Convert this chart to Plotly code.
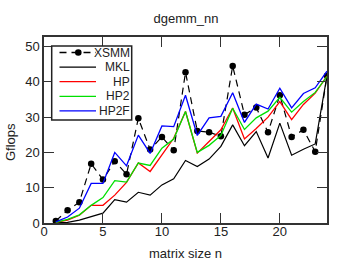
import plotly.graph_objects as go

n = list(range(1, 25))
xsmm = [0.6, 3.6, 5.9, 16.8, 12.3, 17.5, 13.8, 29.7, 20.8, 24.4, 20.6, 42.7,
        26.1, 25.7, 24.6, 44.5, 30.7, 32.7, 25.7, 36.2, 24.4, 26.4, 20.2, 41.7]
mkl = [0.1, 0.2, 0.8, 1.7, 2.8, 6.6, 5.9, 8.7, 7.9, 10.8, 12.5, 17.7,
       16.0, 18.1, 21.7, 27.8, 21.9, 25.9, 18.4, 28.3, 19.2, 20.9, 22.4, 41.7]
hp = [0.2, 0.8, 2.2, 5.0, 5.0, 7.9, 11.5, 17.0, 14.6, 19.3, 24.0, 31.6,
      19.8, 23.1, 26.4, 32.6, 23.8, 26.8, 30.0, 34.4, 29.3, 33.6, 36.8, 41.6]
hp2 = [0.2, 1.0, 2.3, 5.0, 7.2, 12.0, 11.6, 17.0, 16.3, 21.2, 23.8, 31.6,
       20.0, 22.0, 24.8, 32.5, 26.5, 29.8, 31.7, 35.6, 31.4, 34.4, 37.0, 41.5]
hp2f = [0.3, 1.7, 4.2, 11.2, 11.2, 20.0, 16.2, 24.9, 19.7, 27.5, 27.3, 36.2,
        24.8, 29.8, 30.2, 36.9, 28.5, 33.7, 32.3, 38.2, 32.6, 36.7, 38.3, 43.0]

series_names = ["XSMM", "MKL", "HP", "HP2", "HP2F"]
series_values = [xsmm, mkl, hp, hp2, hp2f]
series_colors = ["black", "black", "#ff0000", "#00e000", "#0000ff"]
series_dash = ["7px,5px", "solid", "solid", "solid", "solid"]
series_markers = [True, False, False, False, False]

x_ticks = [0, 5, 10, 15, 20]
y_ticks = [0, 10, 20, 30, 40, 50]

FONT = "Liberation Sans, Arial, sans-serif"
W, H = 349, 262
ML, MR, MT, MB = 44, 22, 37, 39
PW, PH = W - ML - MR, H - MT - MB


def px_x(p):
    return (p - ML) / PW


def px_y(p):
    return 1 - (p - MT) / PH


fig = go.Figure()
for name, vals, col, dash, mk in zip(series_names, series_values, series_colors,
                                     series_dash, series_markers):
    fig.add_trace(go.Scatter(
        x=n, y=vals, name=name, mode="lines+markers" if mk else "lines",
        line=dict(color=col, width=1.2 if col == "black" else 1.3, dash=dash),
        marker=dict(color=col, size=6.5, symbol="circle"), showlegend=False))

axis_common = dict(showgrid=False, zeroline=False, showline=True, linecolor="#333333",
                   linewidth=1.5, mirror="allticks", ticks="inside", ticklen=10,
                   tickwidth=1, tickcolor="#333333", automargin=False,
                   tickfont=dict(family=FONT, size=13, color="#222222"))

fig.update_xaxes(range=[0, 24], tickvals=x_ticks, ticklabelstandoff=-4, **axis_common)
fig.update_yaxes(range=[0, 52.7], tickvals=y_ticks, **axis_common)

# custom legend box (gnuplot style: sample on the left, right-aligned text)
shapes = [dict(type="rect", xref="paper", yref="paper", layer="above",
               x0=px_x(51.7), x1=px_x(131.7), y0=px_y(120), y1=px_y(46),
               line=dict(color="#222222", width=1.5), fillcolor="white")]
annotations = []
row0, row_step = 52.5, 14.6
for i, (name, col, dash, mk) in enumerate(zip(series_names, series_colors,
                                              series_dash, series_markers)):
    ry = row0 + i * row_step
    shapes.append(dict(type="line", xref="paper", yref="paper", layer="above",
                       x0=px_x(59.5), x1=px_x(96), y0=px_y(ry), y1=px_y(ry),
                       line=dict(color=col, width=1.3, dash=dash)))
    if mk:
        shapes.append(dict(type="circle", xref="paper", yref="paper", layer="above",
                           x0=px_x(78.3 - 3.3), x1=px_x(78.3 + 3.3),
                           y0=px_y(ry + 3.3), y1=px_y(ry - 3.3),
                           line=dict(color=col, width=0), fillcolor=col))
    annotations.append(dict(text=name, xref="paper", yref="paper",
                            x=px_x(131.5), y=px_y(ry), xanchor="right",
                            yanchor="middle", showarrow=False,
                            font=dict(family=FONT, size=12, color="#222222")))

annotations += [
    dict(text="matrix size n", xref="paper", yref="paper", x=0.5, y=0,
         xanchor="center", yanchor="middle", yshift=-30, showarrow=False,
         font=dict(family=FONT, size=13)),
    dict(text="Gflops", xref="paper", yref="paper", x=0, y=0.5,
         xanchor="center", yanchor="middle", xshift=-34, yshift=-12,
         textangle=-90, showarrow=False, font=dict(family=FONT, size=13)),
]

fig.update_layout(
    width=W, height=H,
    margin=dict(l=ML, r=MR, t=MT, b=MB),
    paper_bgcolor="white", plot_bgcolor="white",
    font=dict(family=FONT, size=12, color="#222222"),
    title=dict(text="dgemm_nn", x=0.533, xanchor="center", y=1 - 18 / H,
               yanchor="middle", font=dict(family=FONT, size=13)),
    showlegend=False,
    shapes=shapes,
    annotations=annotations,
)

fig.write_html("out.html", config={"displayModeBar": False},
               post_script="document.body.style.margin='0';")
